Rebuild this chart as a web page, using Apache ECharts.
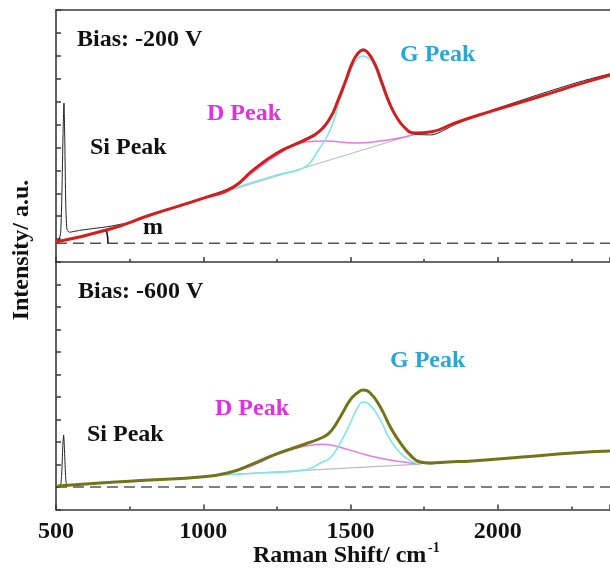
<!DOCTYPE html>
<html><head><meta charset="utf-8">
<script src="https://cdn.jsdelivr.net/npm/echarts@6/dist/echarts.min.js"></script>
<style>html,body{margin:0;padding:0;background:#fff}#c{width:610px;height:571px}</style>
</head><body><div id="c"></div>
<script>
// ---- x axis ----
const xMin = 500, xMax = 2381, xStep = 500;
// ---- top panel (Bias -200 V) ----
const topBaseline = [[500, 0.82], [2381, 0.82]];
const topRaw = [[500,0.9],[510,0.98],[516,1.3],[520,3.0],[524,5.6],[527,6.94],[530,5.2],[533,2.6],[537,1.45],[545,1.3],[580,1.38],[620,1.45],[680,1.55],[720,1.65],[760,1.74],[820,2.07],[1014,2.86],[1102,3.30],[1170,4.05],[1251,4.80],[1346,5.38],[1391,5.70],[1431,6.33],[1458,7.12],[1482,7.88],[1506,8.70],[1526,9.15],[1543,9.30],[1560,9.15],[1584,8.62],[1607,7.85],[1628,7.10],[1652,6.44],[1685,5.82],[1719,5.58],[1776,5.55],[1855,6.00],[1957,6.52],[2137,7.30],[2287,7.90],[2382,8.22]];
const topFit = [[500,0.87],[684,1.44],[820,2.05],[1014,2.84],[1102,3.27],[1170,4.02],[1251,4.76],[1346,5.33],[1391,5.67],[1431,6.29],[1458,7.07],[1482,7.86],[1506,8.69],[1526,9.12],[1543,9.25],[1560,9.12],[1584,8.60],[1607,7.81],[1628,7.07],[1652,6.42],[1685,5.85],[1719,5.63],[1776,5.69],[1855,6.07],[1957,6.50],[2137,7.20],[2287,7.81],[2382,8.16]];
const topG = [[1020,2.85],[1160,3.45],[1262,3.84],[1346,4.15],[1391,4.89],[1431,5.76],[1472,7.38],[1506,8.51],[1526,8.90],[1543,8.99],[1560,8.90],[1577,8.69],[1607,7.64],[1641,6.63],[1685,5.85],[1719,5.63]];
const topD = [[1020,2.85],[1092,3.14],[1170,3.93],[1251,4.67],[1346,5.24],[1414,5.28],[1516,5.19],[1628,5.33],[1685,5.46],[1730,5.63]];
const topBg = [[1020,2.85],[1730,5.63]];
// ---- bottom panel (Bias -600 V) ----
const botBaseline = [[500, 1.0], [2381, 1.0]];
const botRaw = [[500,1.0],[514,1.02],[519,1.5],[523,2.8],[526,3.31],[529,2.6],[533,1.4],[538,1.05],[560,1.1],[650,1.17],[820,1.31],[990,1.44],[1082,1.63],[1160,1.99],[1238,2.43],[1346,2.92],[1404,3.19],[1431,3.45],[1465,4.12],[1499,4.88],[1523,5.20],[1543,5.33],[1567,5.19],[1601,4.57],[1635,3.68],[1669,2.96],[1703,2.41],[1737,2.08],[1771,2.03],[1832,2.10],[1913,2.17],[2083,2.34],[2253,2.52],[2382,2.61]];
const botFit = [[505,1.04],[650,1.18],[820,1.31],[990,1.44],[1082,1.62],[1160,1.98],[1238,2.42],[1346,2.91],[1404,3.20],[1431,3.44],[1465,4.11],[1499,4.87],[1523,5.18],[1543,5.31],[1567,5.18],[1601,4.56],[1635,3.67],[1669,2.96],[1703,2.42],[1737,2.11],[1771,2.07],[1832,2.11],[1913,2.16],[2083,2.33],[2253,2.51],[2382,2.60]];
const botG = [[1048,1.53],[1194,1.62],[1346,1.76],[1404,2.11],[1431,2.29],[1465,2.96],[1499,3.84],[1523,4.51],[1543,4.78],[1567,4.64],[1601,3.98],[1635,3.09],[1669,2.51],[1703,2.16],[1737,2.02]];
const botD = [[1048,1.53],[1126,1.76],[1194,2.11],[1262,2.51],[1346,2.82],[1404,2.90],[1431,2.87],[1499,2.64],[1567,2.38],[1635,2.20],[1703,2.07],[1737,2.02]];
const botBg = [[1048,1.53],[1737,2.02]];
// ---- texts ----
const xTitle = 'Raman Shift/ cm', xTitleSup = '-1', yTitle = 'Intensity/ a.u.';
const labelsTop = ['Bias: -200 V', 'Si Peak', 'D Peak', 'G Peak', 'm'];
const labelsBot = ['Bias: -600 V', 'Si Peak', 'D Peak', 'G Peak'];

const FONT = '"Liberation Serif","Times New Roman",serif';
const axisCol = '#3a3a3a';
const chart = echarts.init(document.getElementById('c'), null, {renderer: 'canvas'});

function xAx(grid, pos, labels, ticks) {
  return {
    type: 'value', gridIndex: grid, position: pos, min: xMin, max: xMax, interval: xStep,
    axisLine: {show: true, onZero: false, lineStyle: {color: axisCol, width: 1.6}},
    axisTick: {show: ticks, inside: true, length: 5, lineStyle: {color: axisCol, width: 1.5}},
    minorTick: {show: ticks, splitNumber: 2, length: 3, lineStyle: {color: axisCol, width: 1.5}},
    splitLine: {show: false}, minorSplitLine: {show: false},
    axisLabel: {show: labels, showMaxLabel: false, margin: 10, formatter: v => String(v),
      fontFamily: FONT, fontWeight: 'bold', fontSize: 24, color: '#111'}
  };
}
function yAx(grid) {
  return {
    type: 'value', gridIndex: grid, min: 0, max: 11, interval: 1,
    axisLine: {show: true, onZero: false, lineStyle: {color: axisCol, width: 1.6}},
    axisTick: {show: true, inside: true, length: 5, lineStyle: {color: axisCol, width: 1.5}},
    splitLine: {show: false}, axisLabel: {show: false}
  };
}
function ln(data, xi, yi, color, width, z, extra) {
  return Object.assign({
    type: 'line', data: data, xAxisIndex: xi, yAxisIndex: yi, showSymbol: false, symbol: 'none',
    smooth: 0.5, z: z, silent: true,
    lineStyle: {color: color, width: width}
  }, extra || {});
}
const dashed = {smooth: false, lineStyle: {color: '#555', width: 1.6, type: [11, 6]}};

chart.setOption({
  animation: false,
  backgroundColor: '#fff',
  grid: [
    {left: 56, right: 0, top: 10, height: 252},
    {left: 56, right: 0, top: 262, height: 247.5}
  ],
  xAxis: [xAx(0, 'bottom', false, true), xAx(0, 'top', false, false), xAx(1, 'bottom', true, true)],
  yAxis: [yAx(0), yAx(1)],
  series: [
    ln(topBaseline, 0, 0, '#555', 1.6, 1, dashed),
    ln(topBg, 0, 0, '#bdbdbd', 1.2, 2),
    ln(topD, 0, 0, '#e27ae2', 1.5, 3),
    ln(topG, 0, 0, '#80e4ec', 1.6, 4),
    ln(topRaw, 0, 0, '#222', 1, 5, {smooth: 0.2}),
    ln(topFit, 0, 0, '#d41e1e', 3, 6),
    ln(botBaseline, 2, 1, '#555', 1.6, 1, dashed),
    ln(botBg, 2, 1, '#bdbdbd', 1.2, 2),
    ln(botD, 2, 1, '#e27ae2', 1.5, 3),
    ln(botG, 2, 1, '#80e4ec', 1.6, 4),
    ln(botRaw, 2, 1, '#222', 1, 5, {smooth: 0.2}),
    ln(botFit, 2, 1, '#73731a', 3, 6)
  ]
});

function txt(s, x, y, color, size, extra) {
  return Object.assign({
    type: 'text', x: x, y: y, z: 100, silent: true,
    style: {text: s, font: 'bold ' + (size || 24) + 'px ' + FONT, fill: color || '#111',
      textAlign: 'left', textVerticalAlign: 'middle', align: 'left', verticalAlign: 'middle'}
  }, extra || {});
}
// angle arc "m" between baseline and fit line
const c0 = chart.convertToPixel({xAxisIndex: 0, yAxisIndex: 0}, [xMin, topBaseline[0][1]]);
const p0 = chart.convertToPixel({xAxisIndex: 0, yAxisIndex: 0}, topFit[0]);
const p1 = chart.convertToPixel({xAxisIndex: 0, yAxisIndex: 0}, topFit[1]);
const ang = Math.atan2(p1[1] - p0[1], p1[0] - p0[0]);

chart.setOption({
  graphic: [
    txt(labelsTop[0], 77, 40),
    txt(labelsTop[1], 90, 148),
    txt(labelsTop[2], 207, 114, '#e030e0'),
    txt(labelsTop[3], 400, 55, '#2aa6d6'),
    txt(labelsTop[4], 143, 228),
    txt(labelsBot[0], 78, 292),
    txt(labelsBot[1], 87, 435),
    txt(labelsBot[2], 215, 409, '#e030e0'),
    txt(labelsBot[3], 390, 361, '#2aa6d6'),
    txt(xTitle, 253, 556),
    txt(xTitleSup, 428, 548, '#111', 14),
    txt(yTitle, 22, 250, '#111', 24, {rotation: Math.PI / 2, style: {text: yTitle, font: 'bold 24px ' + FONT, fill: '#111', textAlign: 'center', textVerticalAlign: 'middle', align: 'center', verticalAlign: 'middle'}}),
    {type: 'arc', z: 100, silent: true, shape: {cx: c0[0], cy: c0[1], r: 52, startAngle: ang, endAngle: 0, clockwise: true},
      style: {stroke: '#111', lineWidth: 1.5, fill: null}}
  ]
});
</script></body></html>
